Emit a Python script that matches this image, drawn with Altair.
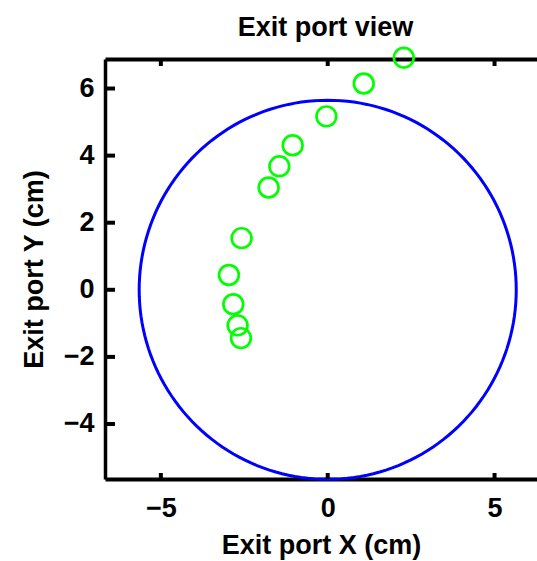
import altair as alt
import numpy as np
import pandas as pd

# Beam spot positions on the exit port (cm)
port_x = [2.28, 1.08, -0.04, -1.05, -1.45, -1.77, -2.58, -2.96, -2.83, -2.70, -2.60]
port_y = [6.92, 6.15, 5.17, 4.31, 3.68, 3.05, 1.54, 0.44, -0.43, -1.06, -1.44]

# Exit port aperture radius (cm)
port_radius = 5.65

x_ticks = [-5, 0, 5]
y_ticks = [-4, -2, 0, 2, 4, 6]
x_domain = [-6.674, 6.272]
y_domain = [-5.64, 6.88]

FONT = "Liberation Sans"
FS = 27
W, H = 432, 420

spots = pd.DataFrame({"x": port_x, "y": port_y})

theta = np.linspace(0, 2 * np.pi, 181)
aperture = pd.DataFrame({
    "i": np.arange(len(theta)),
    "x": port_radius * np.cos(theta),
    "y": port_radius * np.sin(theta),
})

xt = pd.DataFrame({"v": x_ticks})
yt = pd.DataFrame({"v": y_ticks})

xs = alt.Scale(domain=x_domain, nice=False, zero=False)
ys = alt.Scale(domain=y_domain, nice=False, zero=False)

text_style = dict(labelFont=FONT, labelFontSize=FS, labelFontWeight="bold",
                  labelColor="black", titleFont=FONT, titleFontSize=FS,
                  titleFontWeight="bold", titleColor="black",
                  titleBaseline="alphabetic")

bottom_axis = alt.Axis(
    values=x_ticks, orient="bottom", ticks=False, grid=False,
    domainColor="black", domainWidth=4, labelPadding=16,
    title="Exit port X (cm)", titleY=74, **text_style,
)
left_axis = alt.Axis(
    values=y_ticks, orient="left", ticks=False, grid=False,
    domainColor="black", domainWidth=3.5, labelPadding=11,
    title="Exit port Y (cm)", titleX=-63, **text_style,
)
# top frame line carries the chart heading
top_axis = alt.Axis(
    values=x_ticks, orient="top", ticks=False, labels=False, grid=False,
    domainColor="black", domainWidth=4,
    title="Exit port view", titleY=-24, titleX=W / 2 + 4, **text_style,
)

outline = alt.Chart(aperture).mark_line(color="#0000ff", strokeWidth=3).encode(
    x=alt.X("x:Q", scale=xs, axis=bottom_axis),
    y=alt.Y("y:Q", scale=ys, axis=left_axis),
    order="i:Q",
)

frame_top = alt.Chart(xt).mark_rule(color="black", strokeWidth=4).encode(
    x=alt.X("v:Q", scale=xs, axis=top_axis),
    y=alt.value(0),
    y2=alt.value(7),
)

ticks_bottom = alt.Chart(xt).mark_rule(color="black", strokeWidth=4).encode(
    x=alt.X("v:Q", scale=xs, axis=None),
    y=alt.value(H),
    y2=alt.value(H - 6),
)
ticks_left = alt.Chart(yt).mark_rule(color="black", strokeWidth=4).encode(
    y=alt.Y("v:Q", scale=ys),
    x=alt.value(0),
    x2=alt.value(10),
)

points = alt.Chart(spots).mark_point(
    shape="circle", filled=False, color="#00ff00", size=390, strokeWidth=2.7, opacity=1
).encode(
    x=alt.X("x:Q", scale=xs, axis=None),
    y=alt.Y("y:Q", scale=ys),
)

chart = alt.layer(
    outline, frame_top, ticks_bottom, ticks_left, points
).resolve_axis(x="independent").properties(
    width=W, height=H,
    autosize=alt.AutoSizeParams(type="none"),
    padding={"left": 105, "top": 59, "right": 0, "bottom": 82},
).configure_view(strokeWidth=0).configure(background="white")

chart.save("out.html", embed_options={"renderer": "svg", "actions": False})
